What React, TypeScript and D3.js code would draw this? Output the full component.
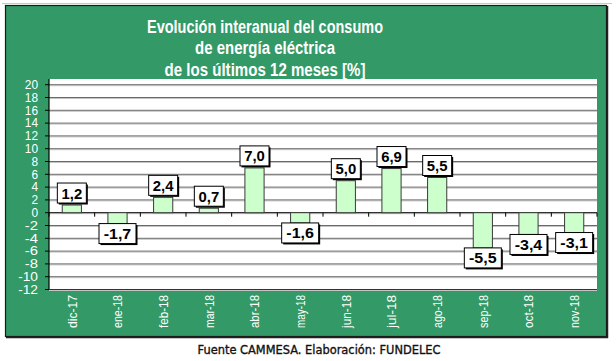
import React from 'react';
import * as d3 from 'd3';

const months = ['dic-17', 'ene-18', 'feb-18', 'mar-18', 'abr-18', 'may-18', 'jun-18', 'jul-18', 'ago-18', 'sep-18', 'oct-18', 'nov-18'];
const values = [1.2, -1.7, 2.4, 0.7, 7.0, -1.6, 5.0, 6.9, 5.5, -5.5, -3.4, -3.1];
const yTicks = [20, 18, 16, 14, 12, 10, 8, 6, 4, 2, 0, -2, -4, -6, -8, -10, -12];
const titleLines = ['Evolución interanual del consumo', 'de energía eléctrica', 'de los últimos 12 meses [%]'];
const titleWidths = [236, 140, 201];
const caption = 'Fuente CAMMESA. Elaboración: FUNDELEC';

const W = 616;
const H = 361;
const plotLeft = 49;
const plotRight = 597;
const font = '"Liberation Sans", Arial, sans-serif';

const fmt = (v: number) => v.toFixed(1).replace('.', ',');

export default function App() {
  const x = d3.scaleBand<string>().domain(months).range([plotLeft, plotRight]).paddingInner(0).paddingOuter(0);
  const y = d3.scaleLinear().domain([-12, 20]).range([289.5, 84.7]);
  const barW = x.bandwidth() * 0.42;
  const edges = months.map(m => x(m) as number).concat([plotRight]);

  return (
    <svg width={W} height={H} style={{ position: 'absolute', left: 0, top: 0 }} fontFamily={font}>
      <rect x={0} y={0} width={W} height={H} fill="#fff" />
      <line x1={2} x2={612} y1={3.5} y2={3.5} stroke="#c8c8c8" />
      {/* green frame */}
      <rect x={5.5} y={5.5} width={601} height={331} fill="#339966" stroke="#1a1a1a" strokeWidth={1.2} />
      <line x1={607.5} x2={607.5} y1={6} y2={338} stroke="#222" strokeWidth={1.5} />
      <line x1={6} x2={608} y1={337.5} y2={337.5} stroke="#222" strokeWidth={1.5} />

      {titleLines.map((t, i) => (
        <text key={t} x={265} y={32.5 + i * 21.5} textAnchor="middle" fill="#fff" fontWeight="bold" fontSize={17.5}
          textLength={titleWidths[i]} lengthAdjust="spacingAndGlyphs">
          {t}
        </text>
      ))}

      {/* plot area */}
      <rect x={plotLeft} y={79} width={plotRight - plotLeft} height={290 - 79} fill="#fff" />
      {yTicks.map(t => (
        <g key={t}>
          <line x1={plotLeft} x2={plotRight} y1={y(t) + 1} y2={y(t) + 1} stroke="#c4c4c4" strokeWidth={1} />
          <line x1={plotLeft} x2={plotRight} y1={y(t)} y2={y(t)} stroke={t === 0 ? '#000' : '#6a6a6a'} strokeWidth={1} />
          <line x1={plotLeft - 4} x2={plotLeft} y1={y(t)} y2={y(t)} stroke="#000" />
          <text x={38} y={y(t) + 4.3} textAnchor="end" fill="#fff" fontSize={12.5}
            textLength={String(t).length * 6.6} lengthAdjust="spacingAndGlyphs">{t}</text>
        </g>
      ))}
      <line x1={plotLeft} x2={plotLeft} y1={79} y2={290} stroke="#000" strokeWidth={1.2} />
      <line x1={plotLeft} x2={plotRight} y1={289.5} y2={289.5} stroke="#333" strokeWidth={1.2} />
      {edges.map((e, i) => (
        <line key={i} x1={e} x2={e} y1={y(0)} y2={y(0) + 4} stroke="#000" />
      ))}

      {values.map((v, i) => {
        const cx = (x(months[i]) as number) + x.bandwidth() / 2;
        const top = y(Math.max(v, 0));
        const bot = y(Math.min(v, 0));
        const label = fmt(v);
        const bw = label.length * 8 + 5;
        const bh = 20;
        const by = v >= 0 ? top - 2 - bh : bot;
        return (
          <g key={months[i]}>
            <rect x={cx - barW / 2} y={top} width={barW} height={bot - top} fill="#ccffcc" stroke="#3a3a3a" strokeWidth={1} />
            <rect x={cx - bw / 2 + 1.5} y={by + 1.5} width={bw} height={bh} fill="#000" />
            <rect x={cx - bw / 2} y={by} width={bw} height={bh} fill="#fff" stroke="#000" strokeWidth={1} />
            <text x={cx} y={by + 15.5} textAnchor="middle" fontWeight="bold" fontSize={15.5} fill="#000"
              textLength={label.length * 6.9} lengthAdjust="spacingAndGlyphs">{label}</text>
          </g>
        );
      })}

      {months.map(m => {
        const cx = (x(m) as number) + x.bandwidth() / 2;
        return (
          <text key={m} transform={`translate(${cx + 4.8},295) rotate(-90)`} textAnchor="end" fill="#fff" fontSize={13.5}
            textLength={33} lengthAdjust="spacingAndGlyphs">
            {m}
          </text>
        );
      })}

      <text x={319} y={354} textAnchor="middle" fontFamily='"DejaVu Sans", Verdana, sans-serif' fontSize={12}
        stroke="#111" strokeWidth={0.35} textLength={243} lengthAdjust="spacingAndGlyphs" fill="#111">
        {caption}
      </text>
    </svg>
  );
}
